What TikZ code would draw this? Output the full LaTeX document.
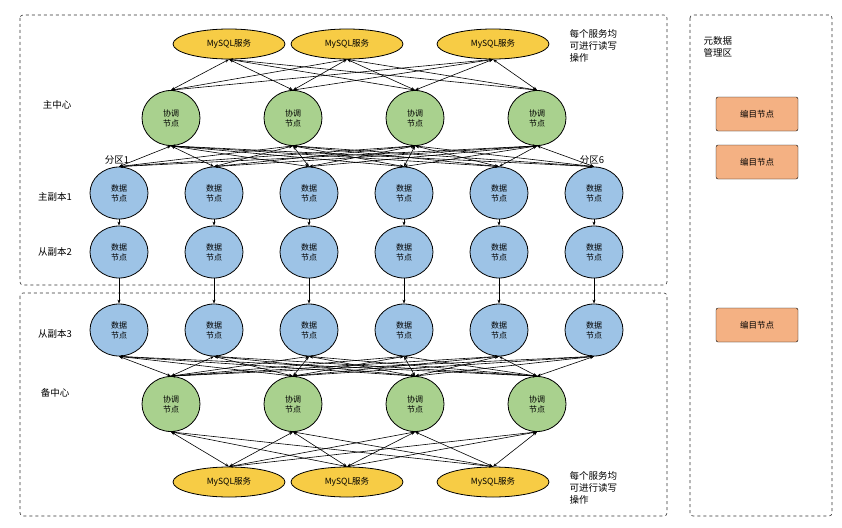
\documentclass[tikz,border=0pt]{standalone}
\usepackage{fontspec}
\setmainfont{Noto Sans CJK SC}
\usetikzlibrary{arrows.meta,shapes.geometric}
\definecolor{ylw}{HTML}{F7CC45}
\definecolor{grn}{HTML}{A9D18E}
\definecolor{blu}{HTML}{9DC3E6}
\definecolor{org}{HTML}{F4B183}
\begin{document}
\begin{tikzpicture}[x=1pt,y=-1pt,
 every node/.style={font=\fontsize{8}{9}\selectfont},
 mysql/.style={ellipse,draw,line width=0.8pt,fill=ylw,minimum width=112pt,minimum height=30pt,inner sep=0pt,font=\fontsize{8.5}{10}\selectfont},
 coord/.style={ellipse,draw,line width=0.8pt,fill=grn,minimum width=58pt,minimum height=55pt,inner sep=0pt,align=center,font=\fontsize{8}{10}\selectfont},
 dat/.style={ellipse,draw,line width=0.8pt,fill=blu,minimum width=58pt,minimum height=52pt,inner sep=0pt,align=center,font=\fontsize{8}{10}\selectfont},
 cat/.style={draw,rounded corners=2pt,fill=org,minimum width=82pt,minimum height=34pt,font=\fontsize{8.5}{10}\selectfont},
 area/.style={draw,dashed,gray!40!black,line width=0.6pt,rounded corners=3pt},
 lbl/.style={font=\fontsize{9.5}{12}\selectfont,align=left},
 link/.style={{Stealth[length=4pt,width=3pt]}-{Stealth[length=4pt,width=3pt]},line width=0.6pt},
 down/.style={-{Stealth[length=4pt,width=3pt]},line width=0.6pt}]
\useasboundingbox (0,0) rectangle (842,527);
\fill[white] (0,0) rectangle (842,527);
\draw[area] (20,15) rectangle (667,285);
\draw[area] (20,293) rectangle (667,516);
\draw[area] (690,15) rectangle (832,516);
% nodes
\foreach \x [count=\i] in {229,347,493}{
 \node[mysql] (mt\i) at (\x,44) {MySQL服务};
 \node[mysql] (mb\i) at (\x,482) {MySQL服务};}
\foreach \x [count=\i] in {171,293,415,537}{
 \node[coord] (ct\i) at (\x,118) {协调\\节点};
 \node[coord] (cb\i) at (\x,404) {协调\\节点};}
\foreach \x [count=\i] in {119,214,309,404,499,594}{
 \node[dat] (da\i) at (\x,193) {数据\\节点};
 \node[dat] (db\i) at (\x,252) {数据\\节点};
 \node[dat] (dc\i) at (\x,330) {数据\\节点};}
% edges
\foreach \m in {1,2,3}{\foreach \c in {1,2,3,4}{
 \draw[link] (mt\m.south) -- (ct\c.north);
 \draw[link] (mb\m.north) -- (cb\c.south);}}
\foreach \c in {1,2,3,4}{\foreach \d in {1,...,6}{
 \draw[link] (ct\c.south) -- (da\d.north);
 \draw[link] (cb\c.north) -- (dc\d.south);}}
\foreach \d in {1,...,6}{
 \draw[down] (da\d) -- (db\d);
 \draw[down] (db\d) -- (dc\d);}
% labels
\node[lbl] (l1) at (57,105) {主中心};
\node[lbl] (l2) at (55,197) {主副本1};
\node[lbl] (l3) at (55,252) {从副本2};
\node[lbl] (l4) at (55,334) {从副本3};
\node[lbl] (l5) at (55,393) {备中心};
\node[lbl] (p1) at (117,160) {分区1};
\node[lbl] (p6) at (592,160) {分区6};
\node[lbl,anchor=north west] (t1) at (566,26) {每个服务均\\可进行读写\\操作};
\node[lbl,anchor=north west] (t2) at (566,468) {每个服务均\\可进行读写\\操作};
\node[lbl,anchor=north west] (t3) at (700,33) {元数据\\管理区};
\node[cat] (k1) at (757,114) {编目节点};
\node[cat] (k2) at (757,162) {编目节点};
\node[cat] (k3) at (757,325) {编目节点};
\end{tikzpicture}
\end{document}
